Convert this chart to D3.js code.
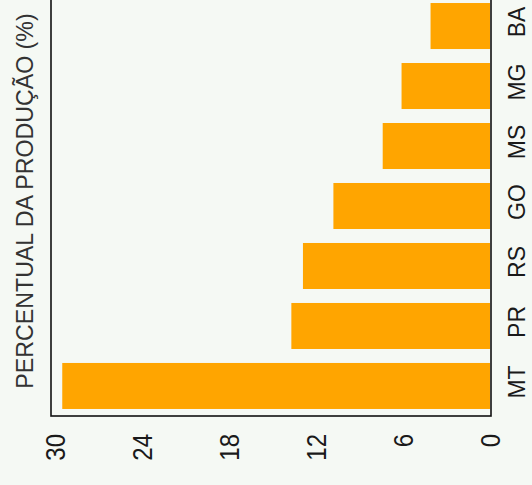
<!DOCTYPE html>
<html>
<head>
<meta charset="utf-8">
<script src="https://cdn.jsdelivr.net/npm/d3@7"></script>
<style>
  html, body { margin: 0; padding: 0; background: #f5f9f4; }
  svg { display: block; }
  text { font-family: "Liberation Sans", Arial, sans-serif; }
</style>
</head>
<body>
<script>
// Data
const states = ["MT", "PR", "RS", "GO", "MS", "MG", "BA"];
const shares = [29.5, 13.7, 12.9, 10.8, 7.4, 6.1, 4.1];
const tickValues = [0, 6, 12, 18, 24, 30];
const titleText = "PERCENTUAL DA PRODUÇÃO (%)";

const W = 532, H = 485;
const frame = { left: 51, right: 491, top: -4, bottom: 416 };

const svg = d3.select("body").append("svg")
  .attr("width", W).attr("height", H);

svg.append("rect").attr("width", W).attr("height", H).attr("fill", "#f5f9f4");

// Value scale runs right-to-left (chart rotated 90° counter-clockwise)
const x = d3.scaleLinear().domain([0, 30]).range([490, 55]);
// Categories from bottom (MT) to top (BA)
const y = d3.scaleBand().domain(states)
  .range([frame.bottom, frame.top])
  .paddingInner(0.233).paddingOuter(0.117);

// Bars
svg.append("g").selectAll("rect").data(states).join("rect")
  .attr("x", (d, i) => x(shares[i]))
  .attr("width", (d, i) => x(0) - x(shares[i]))
  .attr("y", d => y(d))
  .attr("height", y.bandwidth())
  .attr("fill", "#ffa500");

// Frame
svg.append("rect")
  .attr("x", frame.left).attr("y", frame.top)
  .attr("width", frame.right - frame.left)
  .attr("height", frame.bottom - frame.top)
  .attr("fill", "none").attr("stroke", "#111").attr("stroke-width", 1.6);

// Value axis (labels only), rotated text
const xAxis = svg.append("g")
  .attr("transform", `translate(0,${frame.bottom})`)
  .call(d3.axisBottom(x).tickValues(tickValues).tickSize(0).tickFormat(d3.format("d")));
xAxis.select(".domain").remove();
xAxis.selectAll(".tick text")
  .attr("y", 0).attr("dy", null)
  .attr("transform", "translate(0,18) rotate(-90) scale(1,1.15)")
  .attr("text-anchor", "end")
  .attr("dominant-baseline", "central")
  .attr("font-size", 24)
  .attr("fill", "#1a1a1a");

// Category axis (labels only), rotated text
const yAxis = svg.append("g")
  .attr("transform", `translate(${frame.right},0)`)
  .call(d3.axisRight(y).tickSize(0));
yAxis.select(".domain").remove();
yAxis.selectAll(".tick text")
  .attr("x", 0).attr("dy", null)
  .attr("transform", "translate(26,-4) rotate(-90) scale(1,1.05)")
  .attr("text-anchor", "middle")
  .attr("dominant-baseline", "central")
  .attr("font-size", 23)
  .attr("fill", "#1a1a1a");

// Title (rotated)
svg.append("text")
  .attr("transform", "translate(25,201) rotate(-90)")
  .attr("text-anchor", "middle")
  .attr("dominant-baseline", "central")
  .attr("font-size", 23.2)
  .attr("fill", "#333")
  .text(titleText);
</script>
</body>
</html>
